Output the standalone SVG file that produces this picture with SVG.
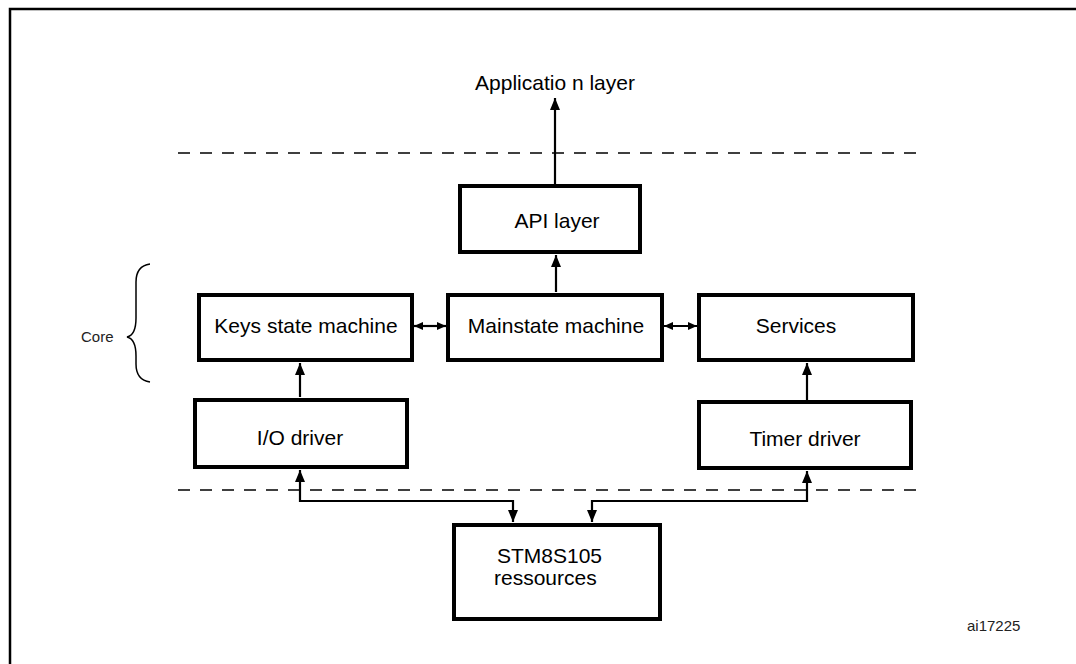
<svg xmlns="http://www.w3.org/2000/svg" width="1076" height="664" viewBox="0 0 1076 664">
<style>
.box{fill:#fff;stroke:#000;stroke-width:4}
.t{font-family:"Liberation Sans",Arial,sans-serif;font-size:21px;fill:#000}
.s{font-family:"Liberation Sans",Arial,sans-serif;font-size:15px;fill:#222}
.c{fill:none;stroke:#000;stroke-width:2.2}
.d{fill:none;stroke:#000;stroke-width:1.3;stroke-dasharray:12 10}
</style>
<defs>
<marker id="ah" markerUnits="userSpaceOnUse" markerWidth="14" markerHeight="12" refX="12" refY="5" orient="auto-start-reverse">
<path d="M0,0 L12,5 L0,10 Z" fill="#000"/>
</marker>
<marker id="as" markerUnits="userSpaceOnUse" markerWidth="12" markerHeight="10" refX="9" refY="4" orient="auto-start-reverse">
<path d="M0,0 L9,4 L0,8 Z" fill="#000"/>
</marker>
</defs>
<rect x="10" y="9" width="1080" height="680" fill="none" stroke="#000" stroke-width="2.5"/>
<g id="layers">
<line class="d" x1="178" y1="153" x2="916" y2="153"/>
<line class="d" x1="178" y1="490" x2="916" y2="490"/>
</g>
<g id="core-brace">
<path d="M150,264 Q136,266 136,282 L136,318 Q136,335 127,337 Q136,339 136,356 L136,364 Q136,380 150,382" fill="none" stroke="#000" stroke-width="1.5"/>
<text class="s" x="81" y="342">Core</text>
</g>
<g id="connectors">
<path class="c" d="M555,184 V98" marker-end="url(#ah)"/>
<path class="c" d="M556,292 V255" marker-end="url(#ah)"/>
<path class="c" d="M414,326 H446" marker-start="url(#as)" marker-end="url(#as)"/>
<path class="c" d="M664,326 H697" marker-start="url(#as)" marker-end="url(#as)"/>
<path class="c" d="M300,397 V363" marker-end="url(#ah)"/>
<path class="c" d="M807,400 V363" marker-end="url(#ah)"/>
<path class="c" d="M513,522 V501 H300 V470" marker-start="url(#ah)" marker-end="url(#ah)"/>
<path class="c" d="M592,522 V501 H807 V471" marker-start="url(#ah)" marker-end="url(#ah)"/>
</g>
<g id="app">
<text class="t" x="555" y="90" text-anchor="middle">Applicatio n layer</text>
</g>
<g id="api">
<rect class="box" x="460" y="186" width="180" height="66"/>
<text class="t" x="557" y="228" text-anchor="middle">API layer</text>
</g>
<g id="keys">
<rect class="box" x="199" y="295" width="213" height="65"/>
<text class="t" x="306" y="333" text-anchor="middle">Keys state machine</text>
</g>
<g id="main">
<rect class="box" x="448" y="295" width="214" height="65"/>
<text class="t" x="556" y="333" text-anchor="middle">Mainstate machine</text>
</g>
<g id="services">
<rect class="box" x="699" y="295" width="214" height="65"/>
<text class="t" x="796" y="333" text-anchor="middle">Services</text>
</g>
<g id="io">
<rect class="box" x="195" y="400" width="212" height="67"/>
<text class="t" x="300" y="445" text-anchor="middle">I/O driver</text>
</g>
<g id="timer">
<rect class="box" x="699" y="402" width="212" height="66"/>
<text class="t" x="805" y="446" text-anchor="middle">Timer driver</text>
</g>
<g id="stm">
<rect class="box" x="454" y="525" width="206" height="94"/>
<text class="t" x="497" y="563">STM8S105</text>
<text class="t" x="494" y="585">ressources</text>
</g>
<text class="s" x="967" y="631">ai17225</text>
</svg>
